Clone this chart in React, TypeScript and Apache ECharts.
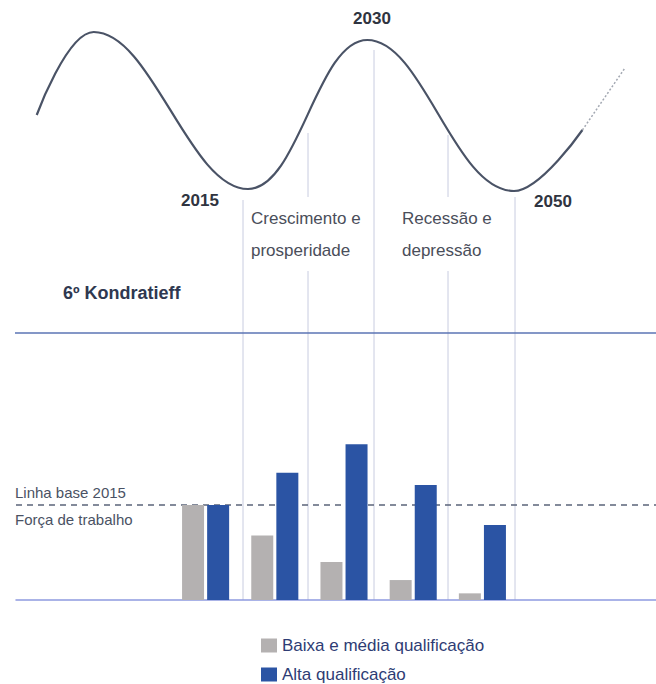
import React, { useEffect, useRef } from "react";
import * as echarts from "echarts";

// Kondratieff wave (x in years, y = cycle level), read at its turning points
const waveYears = [1987.2, 1994.7, 2015, 2030.7, 2050, 2059];
const waveLevels = [85, 168, 11, 160, 9, 70];
const trendYears = [2059, 2064.6];
const trendLevels = [70, 132];

// Bars (index, 2015 baseline = 100)
const periods = ["2015", "Crescimento", "Prosperidade", "Recessão", "Depressão"];
const lowQual = [100, 68, 40, 21, 7];
const highQual = [100, 134, 164, 121, 79];
const baseline = 100;

const seriesNames = ["Baixa e média qualificação", "Alta qualificação"];

const FONT = "'Liberation Sans', Arial, sans-serif";

export default function App() {
  const ref = useRef<HTMLDivElement>(null);
  useEffect(() => {
    document.body.style.margin = "0";
    const chart = echarts.init(ref.current!, null, { renderer: "svg" });
    const txt = (text: string, x: number, y: number, size: number, weight: string, fill: string, align = "left", extra: any = {}) => ({
      type: "text",
      x,
      y,
      z: 10,
      style: {
        text,
        fontFamily: FONT,
        fontSize: size,
        fontWeight: weight,
        fill,
        align,
        verticalAlign: "middle",
        ...extra,
      },
    });
    const vline = (x: number, y1: number, y2: number) => ({
      type: "line",
      z: 0,
      shape: { x1: x, y1, x2: x, y2 },
      style: { stroke: "#c8cce0", lineWidth: 1 },
    });
    const legendItem = (name: string, top: number) => ({
      orient: "vertical",
      left: 261,
      top,
      padding: 0,
      itemWidth: 16,
      itemHeight: 14,
      icon: "rect",
      data: [name],
      textStyle: { fontFamily: FONT, fontSize: 17, color: "#2e3c74" },
    });
    chart.setOption({
      animation: false,
      backgroundColor: "#ffffff",
      grid: [
        { left: 20, right: 28, top: 0, height: 200 },
        { left: 171, right: 139, top: 410, height: 190 },
        { left: 16, right: 0, top: 410, height: 190 },
      ],
      xAxis: [
        { type: "value", gridIndex: 0, min: 1985, max: 2065, show: false },
        { type: "category", gridIndex: 1, data: periods, show: false },
        {
          type: "value",
          gridIndex: 2,
          min: 0,
          max: 1,
          axisLine: { show: true, lineStyle: { color: "#8e9ae0", width: 1.5 } },
          axisTick: { show: false },
          axisLabel: { show: false },
          splitLine: { show: false },
        },
      ],
      yAxis: [
        { type: "value", gridIndex: 0, min: 0, max: 200, show: false },
        { type: "value", gridIndex: 1, min: 0, max: 200, show: false },
        { type: "value", gridIndex: 2, min: 0, max: 200, show: false },
      ],
      legend: [legendItem(seriesNames[0], 637), legendItem(seriesNames[1], 666)],
      series: [
        {
          type: "line",
          xAxisIndex: 0,
          yAxisIndex: 0,
          data: waveYears.map((y, i) => [y, waveLevels[i]]),
          smooth: 0.4,
          symbol: "none",
          lineStyle: { color: "#4a5366", width: 2.2 },
          z: 3,
        },
        {
          type: "line",
          xAxisIndex: 0,
          yAxisIndex: 0,
          data: trendYears.map((y, i) => [y, trendLevels[i]]),
          symbol: "none",
          lineStyle: { color: "#a3a8b2", width: 1.5, type: [2, 2] },
          z: 3,
        },
        {
          type: "line",
          xAxisIndex: 2,
          yAxisIndex: 2,
          data: [
            [0, baseline],
            [1, baseline],
          ],
          symbol: "none",
          lineStyle: { color: "#5b6479", width: 1.5, type: [6, 5] },
          z: 1,
        },
        {
          name: seriesNames[0],
          type: "bar",
          xAxisIndex: 1,
          yAxisIndex: 1,
          data: lowQual,
          barWidth: 22,
          barGap: "14%",
          itemStyle: { color: "#b4b1b1" },
          z: 4,
        },
        {
          name: seriesNames[1],
          type: "bar",
          xAxisIndex: 1,
          yAxisIndex: 1,
          data: highQual,
          barWidth: 22,
          barGap: "14%",
          itemStyle: { color: "#2b54a4" },
          z: 4,
        },
      ],
      graphic: [
        {
          type: "line",
          z: 1,
          shape: { x1: 15, y1: 333, x2: 656, y2: 333 },
          style: { stroke: "#5b74b4", lineWidth: 1.5 },
        },
        vline(243, 200, 600),
        vline(308, 133, 600),
        vline(374, 50, 600),
        vline(448, 135, 600),
        vline(515, 197, 600),
        txt("2030", 372, 18, 17, "bold", "#2f3440", "center"),
        txt("2015", 200, 200, 17, "bold", "#2f3440", "center"),
        txt("2050", 553, 201, 17, "bold", "#2f3440", "center"),
        txt("Crescimento e\nprosperidade", 249, 234, 17, "normal", "#4a4e5a", "left", {
          lineHeight: 32,
          backgroundColor: "#ffffff",
          padding: [4, 2, 6, 2],
        }),
        txt("Recessão e\ndepressão", 400, 234, 17, "normal", "#4a4e5a", "left", {
          lineHeight: 32,
          backgroundColor: "#ffffff",
          padding: [4, 2, 6, 2],
        }),
        txt("6º Kondratieff", 63, 293, 18, "bold", "#2f3850"),
        txt("Linha base 2015", 15, 492, 15, "normal", "#4a5264"),
        txt("Força de trabalho", 15, 519, 15, "normal", "#4a5264"),
      ],
    });
    return () => chart.dispose();
  }, []);
  return <div ref={ref} style={{ width: 656, height: 684 }} />;
}
